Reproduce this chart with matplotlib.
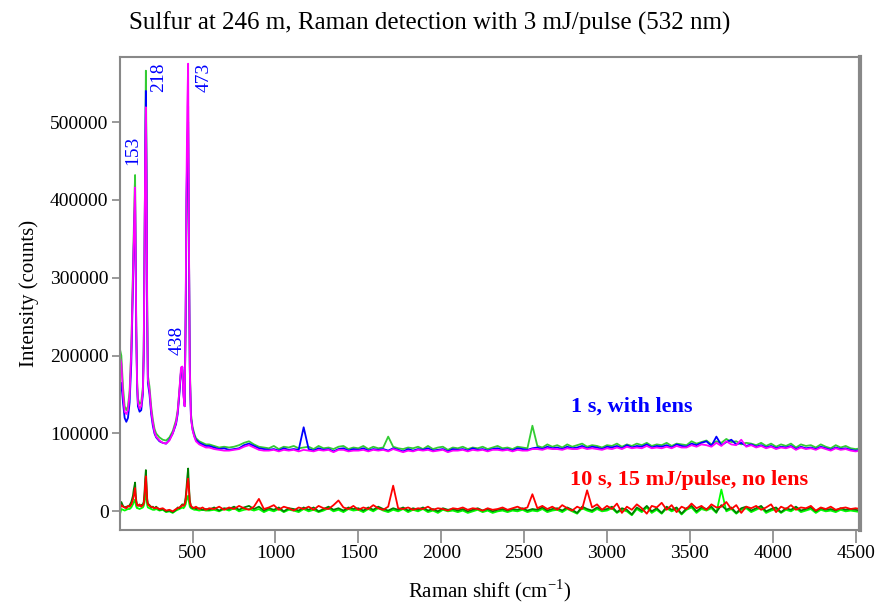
import matplotlib
matplotlib.use("Agg")
import matplotlib.pyplot as plt
import numpy as np

plt.rcParams['font.family'] = ['Liberation Serif', 'DejaVu Serif']
plt.rcParams['mathtext.fontset'] = 'custom'
plt.rcParams['mathtext.rm'] = 'Liberation Serif'

# ---- data (intensities in thousands of counts) ----
# peak region, hand-sampled
x_peak = [60, 70, 80, 90, 100, 110, 120, 130, 140, 145, 150, 153, 156, 160, 165, 170, 180, 190, 200, 205,
          210, 214, 218, 222, 226, 230, 240, 250, 260, 270, 280, 300, 320, 340, 360, 380, 400, 410, 420, 430,
          438, 445, 452, 458, 463, 468, 473, 478, 483, 490, 500, 510, 520, 540, 560, 580]

blue_peak = [150, 165, 140, 120, 115, 120, 140, 190, 290, 340, 380, 400, 330, 230, 160, 135, 128, 130, 150, 200,
             330, 460, 540, 430, 250, 165, 150, 125, 110, 100, 95, 90, 88, 87, 92, 100, 112, 125, 150, 180,
             185, 150, 135, 250, 400, 470, 500, 330, 180, 120, 105, 97, 92, 88, 86, 84]
green_peak = [210, 200, 160, 135, 130, 135, 155, 210, 310, 360, 410, 432, 350, 240, 170, 145, 138, 140, 160, 210,
              350, 480, 566, 450, 270, 175, 160, 135, 118, 106, 100, 95, 92, 91, 95, 103, 117, 130, 155, 180,
              182, 155, 140, 240, 380, 460, 520, 340, 190, 125, 108, 100, 94, 90, 88, 86]
magenta_peak = [200, 190, 150, 128, 125, 130, 150, 205, 300, 350, 395, 416, 340, 235, 165, 140, 132, 135, 155, 205,
                335, 455, 519, 420, 255, 170, 155, 130, 114, 102, 96, 91, 88, 87, 91, 100, 114, 128, 155, 185,
                186, 148, 135, 260, 420, 520, 575, 350, 185, 120, 104, 96, 90, 86, 84, 82]

red_peak = [2, 8, 6, 5, 4, 7, 6, 9, 15, 20, 26, 30, 20, 12, 8, 7, 9, 6, 8, 10,
            20, 35, 45, 30, 14, 9, 7, 6, 5, 4, 5, 3, 4, 1, 2, 0, 3, 4, 5, 6,
            8, 7, 9, 14, 25, 36, 42, 28, 12, 7, 5, 4, 6, 3, 5, 2]
dkgreen_peak = [4, 12, 7, 5, 6, 6, 8, 12, 20, 28, 34, 37, 24, 14, 9, 8, 7, 8, 9, 12,
                25, 42, 53, 35, 16, 10, 8, 5, 6, 4, 6, 2, 3, 0, 1, -1, 2, 5, 4, 7,
                9, 8, 10, 18, 30, 44, 55, 32, 14, 6, 4, 5, 3, 4, 2, 3]
ltgreen_peak = [-5, 3, 2, 1, 2, 3, 3, 5, 9, 12, 14, 15, 10, 6, 4, 4, 3, 4, 5, 7,
                12, 20, 25, 16, 8, 5, 4, 3, 2, 2, 3, 1, 2, -1, 0, -2, 1, 2, 3, 4,
                5, 4, 6, 9, 14, 18, 20, 12, 6, 4, 3, 2, 2, 1, 2, 1]

# baseline region, sampled every 30 cm-1 from 600 to 4530
x_base = np.arange(600, 4531, 30)

blue_base = [84, 82, 80, 81, 79, 80, 81, 85, 87, 84,
             81, 80, 79, 80, 78, 81, 79, 80, 79, 108,
             80, 78, 81, 79, 80, 77, 80, 81, 78, 80,
             79, 81, 78, 80, 79, 80, 78, 81, 79, 77,
             80, 78, 80, 79, 81, 78, 79, 80, 77, 80,
             79, 80, 78, 81, 79, 80, 78, 80, 81, 79,
             80, 78, 81, 80, 79, 81, 82, 80, 83, 81,
             82, 80, 83, 81, 82, 84, 81, 83, 82, 80,
             83, 82, 84, 81, 85, 82, 84, 83, 86, 82,
             84, 83, 85, 82, 86, 84, 83, 87, 85, 88,
             90, 84, 96, 85, 89, 92, 86, 88, 84, 86,
             83, 85, 82, 84, 81, 83, 82, 84, 80, 83,
             81, 82, 80, 83, 81, 79, 82, 80, 81, 79,
             78, 79]
green_base = [86, 84, 82, 83, 82, 83, 85, 88, 90, 86,
              83, 82, 81, 84, 80, 83, 82, 84, 81, 82,
              83, 80, 84, 81, 82, 80, 83, 84, 80, 82,
              81, 84, 80, 83, 81, 82, 96, 83, 81, 80,
              82, 81, 83, 80, 84, 80, 82, 83, 79, 82,
              81, 83, 80, 82, 81, 83, 80, 82, 84, 81,
              82, 80, 83, 82, 81, 110, 84, 82, 86, 83,
              85, 82, 86, 83, 85, 87, 83, 85, 84, 82,
              85, 84, 87, 83, 86, 84, 87, 85, 88, 84,
              86, 85, 88, 84, 87, 86, 85, 90, 87, 89,
              91, 86, 90, 88, 93, 89, 90, 86, 88, 87,
              85, 88, 84, 87, 83, 86, 84, 87, 82, 86,
              84, 85, 82, 86, 83, 81, 85, 82, 84, 81,
              80, 81]
magenta_base = [82, 80, 79, 78, 78, 79, 80, 83, 85, 82,
                79, 78, 78, 79, 77, 79, 78, 79, 77, 79,
                78, 77, 79, 78, 79, 76, 79, 79, 77, 78,
                78, 79, 77, 79, 78, 79, 77, 80, 78, 76,
                78, 77, 79, 78, 79, 77, 78, 79, 76, 78,
                78, 79, 77, 79, 78, 79, 77, 79, 79, 78,
                79, 77, 79, 78, 78, 80, 80, 79, 81, 80,
                80, 79, 81, 80, 80, 82, 80, 81, 80, 79,
                81, 80, 82, 80, 83, 81, 82, 81, 84, 81,
                82, 81, 83, 81, 84, 82, 82, 85, 83, 86,
                85, 83, 88, 84, 90, 86, 85, 92, 83, 85,
                82, 84, 81, 83, 80, 82, 81, 83, 79, 82,
                80, 81, 79, 82, 80, 78, 81, 79, 80, 78,
                77, 78]

red_base = [4, 3, 6, 2, 5, 3, 7, 4, 2, 6,
            16, 3, 5, 8, 2, 6, 4, 1, 5, 3,
            6, 2, 7, 4, 3, 8, 14, 5, 3, 7,
            2, 5, 3, 8, 4, 2, 6, 33, 4, 3,
            5, 2, 4, 3, 6, 2, 4, 3, 1, 4,
            3, 5, 2, 4, 3, 1, 4, 2, 3, 5,
            2, 4, 6, 3, 5, 22, 4, 7, 3, 6,
            2, 8, 4, 1, 6, 3, 27, 5, 9, 2,
            7, 3, 10, -2, 6, 2, 9, 4, -3, 7,
            5, 11, 2, 8, -1, 6, 3, 10, 4, 7,
            2, 9, 5, 6, 12, 3, 8, -2, 6, 4,
            7, 2, 5, 9, -1, 6, 3, 8, 2, 5,
            4, 7, 1, 5, 3, 6, 2, 4, 5, 3,
            4, 3]
dkgreen_base = [2, 5, 1, 4, 3, 6, 2, 5, 7, 3,
                6, 1, 4, 2, 5, 0, 4, 3, 1, 5,
                2, 5, 0, 3, 6, 2, 4, 1, 5, 3,
                4, 1, 5, 2, 6, 3, 1, 4, 2, 5,
                1, 4, 2, 5, 1, 3, 0, 4, 2, 3,
                1, 3, 0, 2, 4, 1, 3, 0, 2, 3,
                1, 3, 2, 4, 1, 3, 2, 5, 1, 3,
                4, 1, 5, 2, -2, 6, 3, 1, 5, 2,
                3, 6, -1, 4, 2, -4, 5, 1, 7, 0,
                4, -2, 6, 2, 5, -3, 4, 7, 0, 5,
                3, 6, -1, 8, 2, 5, -2, 4, 6, 1,
                4, 7, 0, 3, 5, -1, 4, 2, 6, 1,
                3, 5, 0, 4, 2, 3, 1, 4, 2, 3,
                2, 1]
ltgreen_base = [1, 2, 0, 3, 1, 4, 0, 2, 3, 1,
                3, -1, 2, 0, 3, -1, 2, 1, -1, 3,
                0, 2, -1, 1, 4, 0, 2, -1, 3, 1,
                2, -1, 3, 0, 4, 1, -1, 2, 0, 3,
                -1, 2, 0, 3, -1, 1, -2, 2, 0, 1,
                -1, 1, -2, 0, 2, -1, 1, -2, 0, 1,
                -1, 1, 0, 2, -1, 1, 0, 3, -1, 1,
                2, -1, 3, 0, -3, 4, 1, -1, 3, 0,
                1, 4, -2, 2, 0, -5, 3, -1, 5, -2,
                2, -3, 4, 0, 3, -4, 2, 5, -2, 3,
                1, 4, -2, 28, 0, 3, -3, 2, 4, -1,
                2, 5, -2, 1, 3, -2, 2, 0, 4, -1,
                1, 3, -2, 2, 0, 1, -1, 2, 0, 1,
                0, -1]

peak_labels = ["153", "218", "473", "438"]
peak_label_pos = [(138, 464), (296, 558), (570, 558), (405, 220)]


def series(peak, base):
    x = np.concatenate([x_peak, x_base])
    y = np.concatenate([peak, base]) * 1000.0
    return x, y


fig = plt.figure(figsize=(8.8, 6.03), dpi=100)
ax = fig.add_axes([0.136, 0.121, 0.841, 0.785])

lw = 1.3
ax.plot(*series(green_peak, green_base), color='#33cc33', lw=lw)
ax.plot(*series(blue_peak, blue_base), color='#0000ff', lw=lw)
ax.plot(*series(magenta_peak, magenta_base), color='#ff00ff', lw=lw)

ax.plot(*series(ltgreen_peak, ltgreen_base), color='#00ff00', lw=lw)
ax.plot(*series(dkgreen_peak, dkgreen_base), color='#008000', lw=lw)
ax.plot(*series(red_peak, red_base), color='#ff0000', lw=lw)

for lab, (px, py) in zip(peak_labels, peak_label_pos):
    ax.text(px, py * 1000, lab, rotation=90, color='#0000ff', fontsize=14,
            ha='center', va='center')

ax.text(3148, 135000, "1 s, with lens", color='#0000ff', fontsize=16,
        fontweight='bold', ha='center', va='center')
ax.text(3497, 40000, "10 s, 15 mJ/pulse, no lens", color='#ff0000', fontsize=16,
        fontweight='bold', ha='center', va='center')

ax.set_xlim(60, 4525)
ax.set_ylim(-24000, 584000)
ax.set_xticks([500, 1000, 1500, 2000, 2500, 3000, 3500, 4000, 4500])
ax.set_yticks([0, 100000, 200000, 300000, 400000, 500000])
ax.set_yticklabels(["0", "100000", "200000", "300000", "400000", "500000"])

for s in ax.spines.values():
    s.set_color('#888888')
    s.set_linewidth(1.5)
ax.spines['right'].set_linewidth(3)
ax.tick_params(axis='x', direction='out', length=9, width=1.2, color='#888888',
               labelsize=14, pad=2)
ax.tick_params(axis='y', direction='out', length=6, width=1.2, color='#888888',
               labelsize=14, pad=2)

ax.set_xlabel("Raman shift (cm$^{-1}$)", fontsize=15, labelpad=11)
ax.set_ylabel("Intensity (counts)", fontsize=15, labelpad=8)
fig.suptitle("Sulfur at 246 m, Raman detection with 3 mJ/pulse (532 nm)",
             fontsize=18, x=0.488, y=0.98)

fig.savefig("out.png", dpi=100)
